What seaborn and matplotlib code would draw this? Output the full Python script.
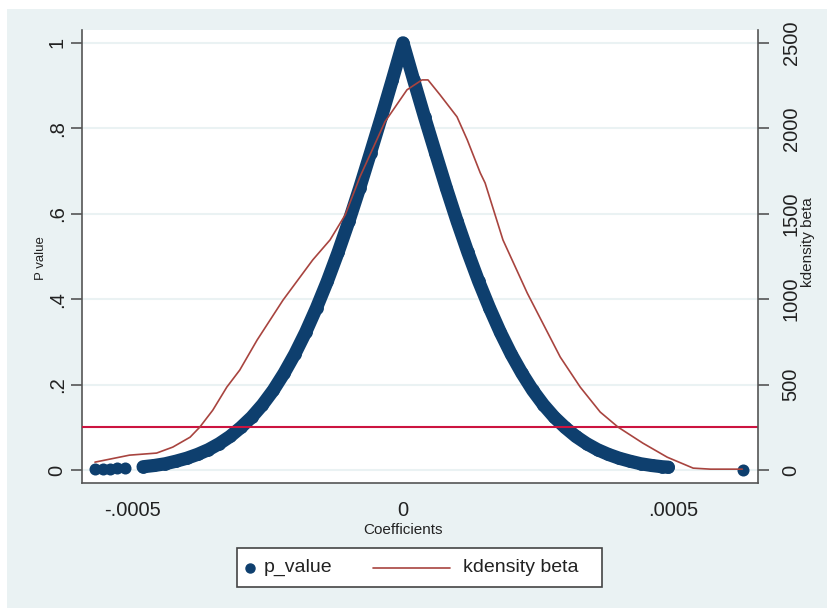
import matplotlib
matplotlib.use("Agg")
import matplotlib.pyplot as plt
import seaborn as sns
import pandas as pd
from matplotlib.patches import Rectangle
from matplotlib.lines import Line2D

# ---------------- data ----------------
band_beta = [-0.000481, -0.000460, -0.000440, -0.000420, -0.000400, -0.000380,
             -0.000360, -0.000340, -0.000320, -0.000300, -0.000280, -0.000260,
             -0.000240, -0.000220, -0.000200, -0.000180, -0.000160, -0.000140,
             -0.000120, -0.000100, -0.000080, -0.000060, -0.000040, -0.000020,
             0.0,
             0.000020, 0.000040, 0.000060, 0.000080, 0.000100, 0.000120,
             0.000140, 0.000160, 0.000180, 0.000200, 0.000220, 0.000240,
             0.000260, 0.000280, 0.000300, 0.000320, 0.000340, 0.000360,
             0.000380, 0.000400, 0.000420, 0.000440, 0.000460, 0.000480,
             0.000491]
band_p = [0.008, 0.011, 0.015, 0.021, 0.028, 0.037,
          0.048, 0.062, 0.079, 0.100, 0.124, 0.153,
          0.187, 0.227, 0.272, 0.323, 0.380, 0.442,
          0.510, 0.583, 0.661, 0.743, 0.826, 0.912,
          1.0,
          0.912, 0.826, 0.743, 0.661, 0.583, 0.510,
          0.442, 0.380, 0.323, 0.272, 0.227, 0.187,
          0.153, 0.124, 0.100, 0.079, 0.062, 0.048,
          0.037, 0.028, 0.021, 0.015, 0.011, 0.008,
          0.007]
tail_beta = [-0.000570, -0.000556, -0.000543, -0.000529, -0.000515, 0.000629]
tail_p = [0.003, 0.003, 0.003, 0.004, 0.004, 0.0]

kd_beta = [-0.000570, -0.000506, -0.000456, -0.000426, -0.000394, -0.000376,
           -0.000352, -0.000326, -0.000302, -0.000270, -0.000222, -0.000167,
           -0.000135, -0.000107, -0.0000796, -0.0000333, 0.0000074, 0.0000352,
           0.0000463, 0.0000685, 0.000100, 0.000119, 0.000143, 0.000152,
           0.000185, 0.000230, 0.000291, 0.000328, 0.000365, 0.000398,
           0.000444, 0.000489, 0.000537, 0.000569, 0.000628]
kd_density = [47, 88, 100, 135, 193, 252,
              351, 486, 586, 761, 995, 1230,
              1347, 1493, 1716, 2038, 2225, 2283,
              2283, 2196, 2067, 1932, 1739, 1680,
              1347, 1036, 662, 486, 340, 252,
              158, 76, 12, 6, 6]

p_threshold = 0.1

x_ticks = [-0.0005, 0.0, 0.0005]
x_labels = ["-.0005", "0", ".0005"]
y_ticks = [0, 0.2, 0.4, 0.6, 0.8, 1.0]
y_labels = ["0", ".2", ".4", ".6", ".8", "1"]
k_ticks = [0, 500, 1000, 1500, 2000, 2500]
k_labels = ["0", "500", "1000", "1500", "2000", "2500"]

# ---------------- style ----------------
sns.set_style("white")
plt.rcParams["font.family"] = ["Liberation Sans", "DejaVu Sans"]

NAVY = "#0e3f6e"
MAROON = "#a8443f"
CRIMSON = "#cc1440"
BG = "#eaf2f3"
TXT = "#222222"
SPINE = "#555555"

W, H = 828, 610
fig = plt.figure(figsize=(W / 100, H / 100), dpi=100)
fig.patch.set_facecolor("white")
fig.add_artist(Rectangle((7 / W, 2 / H), (W - 7) / W, (608 - 9) / H,
                         transform=fig.transFigure, facecolor=BG,
                         edgecolor="none", zorder=-10))

L, R, T, B = 82, 758, 30, 483
ax = fig.add_axes([L / W, (H - B) / H, (R - L) / W, (B - T) / H])
ax.set_facecolor("white")

band_df = pd.DataFrame({"beta": band_beta, "p": band_p})
tail_df = pd.DataFrame({"beta": tail_beta, "p": tail_p})

# p-value points: dense band of markers
sns.lineplot(data=band_df, x="beta", y="p", ax=ax, color=NAVY, lw=9.5,
             sort=False, estimator=None, solid_capstyle="round",
             solid_joinstyle="round", zorder=2, legend=False)
sns.scatterplot(data=band_df, x="beta", y="p", ax=ax, color=NAVY, s=85,
                edgecolor=NAVY, linewidth=0, zorder=2, legend=False)
sns.scatterplot(data=tail_df, x="beta", y="p", ax=ax, color=NAVY, s=75,
                edgecolor=NAVY, linewidth=0, zorder=2, legend=False)

ax.axhline(p_threshold, color=CRIMSON, lw=1.5, zorder=3)

ax.set_xlim(-0.000594, 0.000657)
ax.set_ylim(-0.030, 1.030)
ax.set_xticks(x_ticks)
ax.set_xticklabels(x_labels)
ax.set_yticks(y_ticks)
ax.set_yticklabels(y_labels)
ax.grid(axis="y", color=BG, lw=1.5)
ax.grid(axis="x", visible=False)
ax.tick_params(axis="x", length=8, width=1.2, color=SPINE, labelsize=14.5,
               labelcolor=TXT, pad=5)
ax.tick_params(axis="y", length=8, width=1.2, color=SPINE, labelsize=14.5,
               labelcolor=TXT, pad=3, labelrotation=90)
for lab in ax.get_yticklabels():
    lab.set_va("center")

ax.set_xlabel("Coefficients", fontsize=11, color=TXT)
ax.xaxis.set_label_coords((403 - L) / (R - L), (B - 523) / (B - T))
ax.set_ylabel("P value", fontsize=9.5, color=TXT)
ax.yaxis.set_label_coords((47 - L) / (R - L), (B - 258) / (B - T))

for s in ["left", "bottom", "right"]:
    ax.spines[s].set_color(SPINE)
    ax.spines[s].set_linewidth(1.2)
ax.spines["top"].set_visible(False)
ax.spines["right"].set_visible(False)

ax2 = ax.twinx()
sns.lineplot(x=kd_beta, y=kd_density, ax=ax2, color=MAROON, lw=1.2,
             sort=False, estimator=None, zorder=4, legend=False)
ax2.set_ylim(-0.030 * 2500, 1.030 * 2500)
ax2.set_yticks(k_ticks)
ax2.set_yticklabels(k_labels)
ax2.tick_params(axis="y", length=8, width=1.2, color=SPINE, labelsize=14.5,
                labelcolor=TXT, pad=9, labelrotation=90)
for lab in ax2.get_yticklabels():
    lab.set_va("center")
ax2.set_ylabel("kdensity beta", fontsize=11, color=TXT)
ax2.yaxis.set_label_coords((801 - L) / (R - L), (B - 242) / (B - T))
ax2.spines["right"].set_color(SPINE)
ax2.spines["right"].set_linewidth(1.2)
for s in ["top", "left", "bottom"]:
    ax2.spines[s].set_visible(False)
ax2.grid(False)

# ---------------- legend (Stata style, below plot) ----------------
lx0, lx1, ly0, ly1 = 237, 602, 548, 587
fig.add_artist(Rectangle((lx0 / W, (H - ly1) / H), (lx1 - lx0) / W,
                         (ly1 - ly0) / H, transform=fig.transFigure,
                         facecolor="white", edgecolor="#444444", lw=1.2))
ly = (H - (ly0 + ly1) / 2) / H
fig.add_artist(Line2D([250 / W], [ly], marker="o", ms=6.5, color=NAVY,
                      linestyle="none", transform=fig.transFigure))
fig.text(264 / W, ly, "p_value", fontsize=14, color=TXT, va="center",
         ha="left")
fig.add_artist(Line2D([373 / W, 450 / W], [ly, ly], color=MAROON, lw=1.2,
                      transform=fig.transFigure))
fig.text(463 / W, ly, "kdensity beta", fontsize=14, color=TXT, va="center",
         ha="left")

fig.savefig("out.png", dpi=100)
